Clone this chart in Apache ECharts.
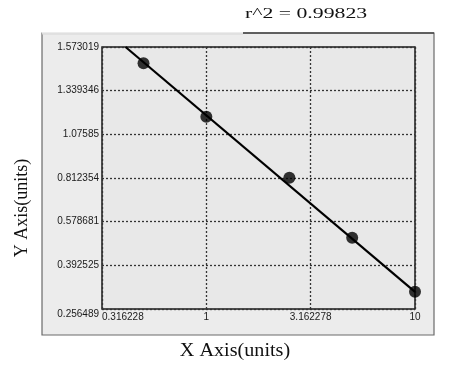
<!DOCTYPE html>
<html>
<head>
<meta charset="utf-8">
<script src="https://cdn.jsdelivr.net/npm/echarts@6/dist/echarts.min.js"></script>
<style>
html,body{margin:0;padding:0;background:#fff;}
#chart{width:451px;height:371px;}
</style>
</head>
<body>
<div id="chart"></div>
<script>
// ---- data ----
const xTicks = [0.316228, 1, 3.162278, 10];
const yTicks = [0.256489, 0.392525, 0.578681, 0.812354, 1.07585, 1.339346, 1.573019];
const pointX = [0.5, 1, 2.5, 5, 10];
const pointY = [1.486, 1.182, 0.814, 0.510, 0.310];
const fitX = [0.41, 10];
const fitY = [1.573019, 0.310];
const r2Text = 'r^2 = 0.99823';
const xTitle = 'X Axis(units)';
const yTitle = 'Y Axis(units)';

// The y axis of the reference places its tick values at equal distances;
// map a value onto that axis (tick index space) piecewise between ticks.
function yToAxis(v) {
  for (let i = 0; i < yTicks.length - 1; i++) {
    const a = yTicks[i], b = yTicks[i + 1];
    if (v <= b || i === yTicks.length - 2) return i + (v - a) / (b - a);
  }
}
function nearestTick(v) {
  let best = xTicks[0];
  xTicks.forEach(t => { if (Math.abs(Math.log10(t) - Math.log10(v)) < Math.abs(Math.log10(best) - Math.log10(v))) best = t; });
  return best;
}

const chart = echarts.init(document.getElementById('chart'), null, {renderer: 'canvas'});
const labelFont = {fontFamily: 'Liberation Sans', fontSize: 10, color: '#1a1a1a'};
const gridLine = {show: true, lineStyle: {color: '#333', width: 1.3, type: [2, 2]}};

chart.setOption({
  animation: false,
  backgroundColor: '#ffffff',
  grid: {left: 102, top: 47, right: 36, bottom: 62, show: true,
         backgroundColor: '#e8e8e8', borderColor: '#1a1a1a', borderWidth: 1.5, containLabel: false},
  xAxis: {
    type: 'log', logBase: 10, min: xTicks[0], max: xTicks[xTicks.length - 1], interval: 0.5,
    axisLine: {show: false}, axisTick: {show: false},
    splitLine: gridLine,
    axisLabel: Object.assign({margin: 3, alignMinLabel: 'left', formatter: v => String(nearestTick(v))}, labelFont)
  },
  yAxis: {
    type: 'value', min: 0, max: yTicks.length - 1, interval: 1,
    axisLine: {show: false}, axisTick: {show: false},
    splitLine: gridLine,
    axisLabel: Object.assign({margin: 3, verticalAlignMinLabel: 'top', formatter: v => String(yTicks[Math.round(v)])}, labelFont)
  },
  graphic: [
    {type: 'rect', z: -10, shape: {x: 42, y: 33, width: 392, height: 302},
     style: {fill: '#ececec', stroke: '#6a6a6a', lineWidth: 1.2}},
    {type: 'line', z: -9, shape: {x1: 42, y1: 33, x2: 243, y2: 33}, style: {stroke: '#ffffff', lineWidth: 1.6}},
    {type: 'line', z: -9, shape: {x1: 42, y1: 34, x2: 243, y2: 34}, style: {stroke: '#d6d6d6', lineWidth: 1}},
    {type: 'line', z: -9, shape: {x1: 243, y1: 33, x2: 434, y2: 33}, style: {stroke: '#444', lineWidth: 1.5}},
    {type: 'text', x: 245, y: 14, scaleX: 1.45, originX: 0, originY: 0,
     style: {text: r2Text, font: '15px "Liberation Serif"', fill: '#111', verticalAlign: 'middle', align: 'left'}},
    {type: 'text', x: 235, y: 351, scaleX: 1.12, originX: 0, originY: 0,
     style: {text: xTitle, font: '18px "Liberation Serif"', fill: '#111', verticalAlign: 'middle', align: 'center'}},
    {type: 'text', x: 22, y: 208, rotation: Math.PI / 2, originX: 0, originY: 0,
     style: {text: yTitle, font: '18px "Liberation Serif"', fill: '#111', verticalAlign: 'middle', align: 'center'}}
  ],
  series: [
    {type: 'line', data: fitX.map((x, i) => [x, yToAxis(fitY[i])]), symbol: 'none', clip: true,
     lineStyle: {color: '#000', width: 2.2}, z: 3},
    {type: 'scatter', data: pointX.map((x, i) => [x, yToAxis(pointY[i])]), symbol: 'circle', symbolSize: 12,
     itemStyle: {color: '#000'}, z: 4}
  ]
});
</script>
</body>
</html>
